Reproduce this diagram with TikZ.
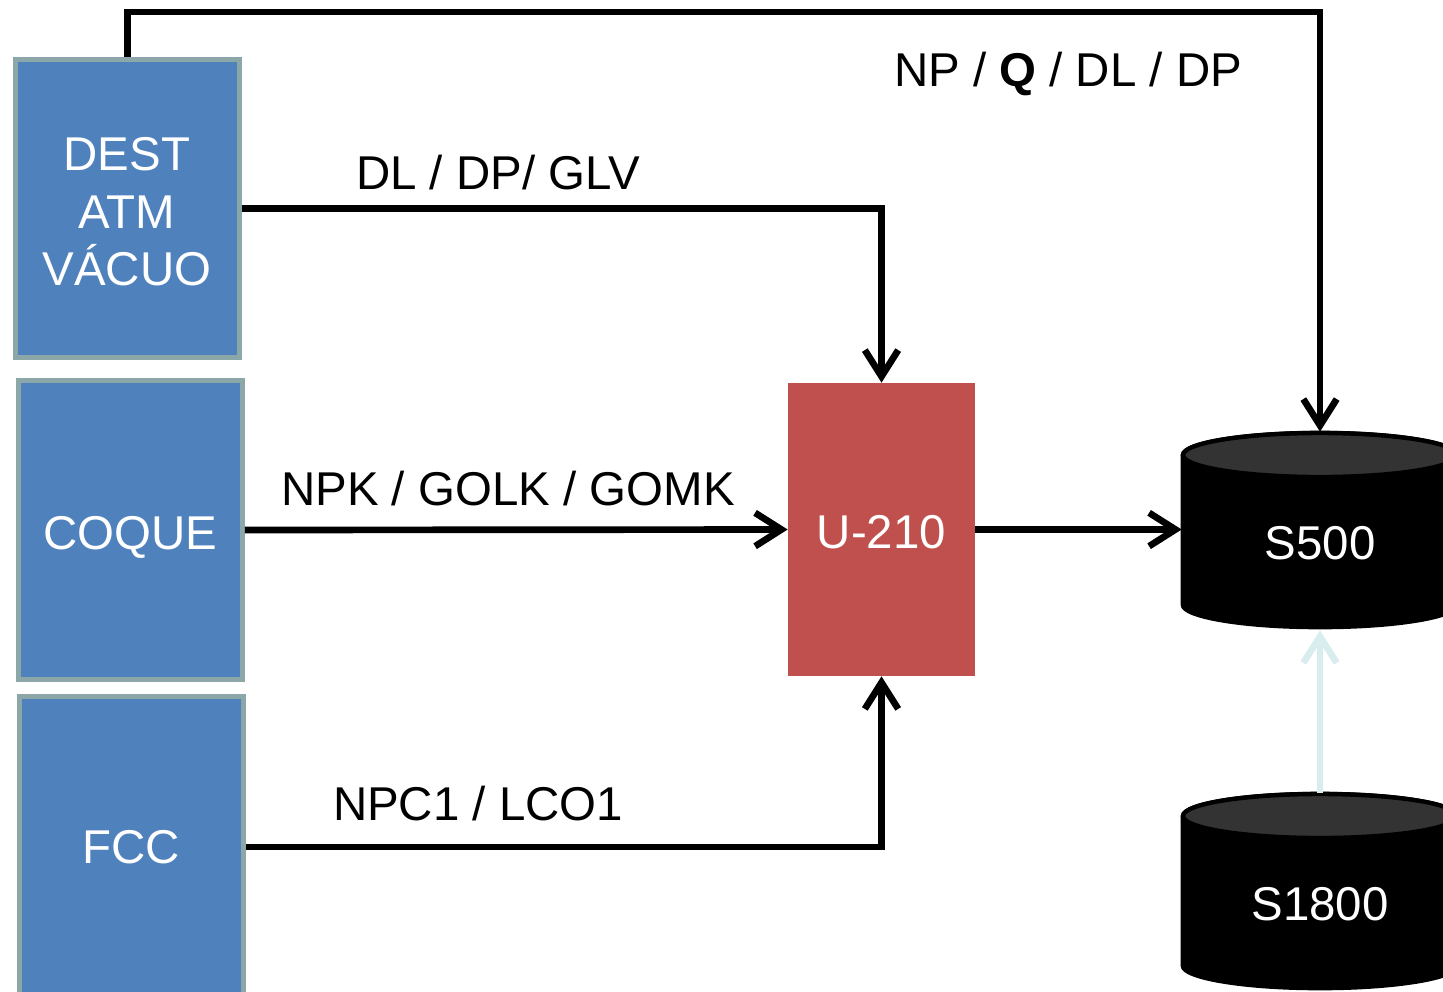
\documentclass[tikz,border=0pt]{standalone}
\usepackage{fontspec}
\setmainfont{Liberation Sans}
\usetikzlibrary{arrows.meta}
\definecolor{boxblue}{HTML}{4F81BD}
\definecolor{boxedge}{HTML}{8BA7A8}
\definecolor{unitred}{HTML}{C0504D}
\definecolor{cyltop}{HTML}{333333}
\definecolor{paleline}{HTML}{D9EDEF}
\begin{document}
\begin{tikzpicture}[x=0.02cm,y=-0.02cm,
  srcbox/.style={draw=boxedge, line width=2.8pt, fill=boxblue, minimum width=4.48cm, inner sep=0},
  unitbox/.style={fill=unitred, minimum width=3.74cm, minimum height=5.86cm, inner sep=0},
  anch/.style={minimum width=5.52cm, minimum height=3.96cm, inner sep=0},
  txt/.style={font=\fontsize{27}{33}\selectfont, anchor=base, inner sep=0},
  wtxt/.style={txt, text=white},
  conn/.style={line width=3.8pt, -{Straight Barb[length=15pt,width=19pt]}},
  pale/.style={conn, draw=paleline},
  cylbody/.style={fill=black, draw=black, line width=1.5pt},
  cyltopst/.style={fill=cyltop, draw=black, line width=2.5pt},
]
\useasboundingbox (0,0) rectangle (1443,991);
\clip (0,0) rectangle (1443,991);

% source boxes
\node[srcbox, minimum height=5.96cm] (dest) at (127.5,208.5) {};
\node[srcbox, minimum height=5.98cm] (coque) at (130.5,530) {};
\node[srcbox, minimum height=6.04cm] (fcc) at (131.5,847) {};

\node[wtxt] (destl1) at (127,170) {DEST};
\node[wtxt] (destl2) at (127,228) {ATM};
\node[wtxt] (destl3) at (127,285) {VÁCUO};
\node[wtxt] (coquel) at (130,549) {COQUE};
\node[wtxt] (fccl) at (131,863) {FCC};

% unit
\node[unitbox] (u210) at (881.5,529.5) {};
\node[wtxt] (u210l) at (881.5,548) {U-210};

% tanks
\node[anch] (s500) at (1320,531) {};
\path[cylbody] (1182,455) -- (1182,605) arc[start angle=180, end angle=0, x radius=138, y radius=23]
  -- (1458,455) arc[start angle=0, end angle=-180, x radius=138, y radius=23] -- cycle;
\path[cyltopst] (1320,455) ellipse [x radius=137, y radius=22];
\node[wtxt] (s500l) at (1320,559) {S500};

\node[anch] (s1800) at (1320,892) {};
\path[cylbody] (1182,816) -- (1182,966) arc[start angle=180, end angle=0, x radius=138, y radius=23]
  -- (1458,816) arc[start angle=0, end angle=-180, x radius=138, y radius=23] -- cycle;
\path[cyltopst] (1320,816) ellipse [x radius=137, y radius=22];
\node[wtxt] (s1800l) at (1320,920) {S1800};

% connectors
\coordinate (topright) at (1320,12);
\draw[conn] (dest.north) |- (topright) -- (s500.north);
\draw[conn] (dest.east) -| (u210.north);
\draw[conn] (coque.east) -- (u210.west);
\draw[conn] (fcc.east) -| (u210.south);
\draw[conn] (u210.east) -- (s500.west |- u210.east);
\draw[pale] (s1800.north) -- (s500.south);

% labels
\node[txt] (lab1) at (1068,86) {NP / \textbf{Q} / DL / DP};
\node[txt] (lab2) at (498,189) {DL / DP/ GLV};
\node[txt] (lab3) at (508,505) {NPK / GOLK / GOMK};
\node[txt] (lab4) at (478,820) {NPC1 / LCO1};
\end{tikzpicture}
\end{document}
